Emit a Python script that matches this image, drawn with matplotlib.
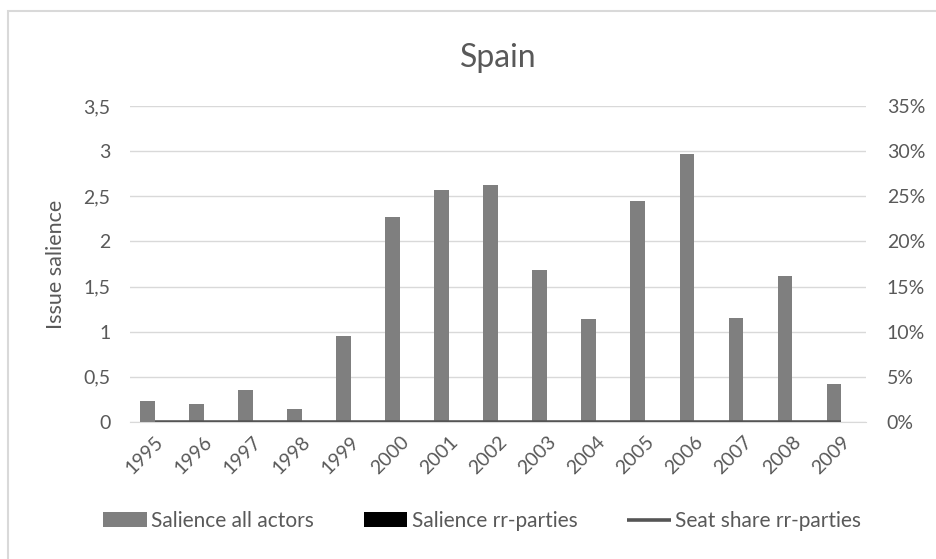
import numpy as np
import matplotlib.pyplot as plt
import matplotlib.patches as mpatches
from matplotlib.ticker import FuncFormatter, MultipleLocator

plt.rcParams['font.family'] = ['Lato', 'DejaVu Sans']

# data
years = ['1995', '1996', '1997', '1998', '1999', '2000', '2001', '2002',
         '2003', '2004', '2005', '2006', '2007', '2008', '2009']
salience_all = [0.23, 0.20, 0.35, 0.14, 0.95, 2.27, 2.57, 2.62,
                1.68, 1.14, 2.45, 2.97, 1.15, 1.62, 0.42]
salience_rr = [0, 0, 0, 0, 0, 0, 0, 0, 0, 0, 0, 0, 0, 0, 0]
seat_share_rr = [0, 0, 0, 0, 0, 0, 0, 0, 0, 0, 0, 0, 0, 0, 0]

TXT = '#595959'
GRID = '#d9d9d9'

fig = plt.figure(figsize=(9.36, 5.59), dpi=100)
# chart border
fig.patches.append(mpatches.Rectangle((8 / 936, -0.02), 1.0, (559 - 11) / 559 + 0.02,
                                      transform=fig.transFigure, fill=False,
                                      edgecolor=GRID, linewidth=1.5))

ax = fig.add_axes([130 / 936, (559 - 422) / 559, 736 / 936, 316 / 559])
ax2 = ax.twinx()

x = np.arange(len(years))
w = 0.3
b1 = ax.bar(x - w / 2, salience_all, w, color='#7f7f7f', label='Salience all actors', zorder=3)
b2 = ax.bar(x + w / 2, salience_rr, w, color='#000000', label='Salience rr-parties', zorder=3)
l1, = ax2.plot(x, seat_share_rr, color='#555555', linewidth=2.6, label='Seat share rr-parties',
               solid_capstyle='butt', zorder=4)

ax.set_xlim(-0.5, len(years) - 0.5)
ax.set_ylim(0, 3.5)
ax2.set_ylim(0, 0.35)
ax.yaxis.set_major_locator(MultipleLocator(0.5))
ax2.yaxis.set_major_locator(MultipleLocator(0.05))
ax.yaxis.set_major_formatter(FuncFormatter(lambda v, p: ('%g' % v).replace('.', ',')))
ax2.yaxis.set_major_formatter(FuncFormatter(lambda v, p: '%d%%' % round(v * 100)))

ax.grid(axis='y', color=GRID, linewidth=1, zorder=0)
ax.set_axisbelow(True)
for a in (ax, ax2):
    for s in a.spines.values():
        s.set_visible(False)
    a.tick_params(length=0, colors=TXT, labelsize=14)
ax.spines['bottom'].set_visible(True)
ax.spines['bottom'].set_color(GRID)
ax.tick_params(axis='y', pad=14)
ax2.tick_params(axis='y', pad=15)

ax.set_xticks(x)
ax.set_xticklabels(years, rotation=45, ha='right', rotation_mode='anchor')
ax.tick_params(axis='x', pad=8)

ax.set_ylabel('Issue salience', color=TXT, fontsize=15.5)
ax.yaxis.set_label_coords(-0.087, 0.5)
ax.set_title('Spain', color=TXT, fontsize=23, pad=28)

fig.legend(handles=[b1, b2, l1], loc='center', bbox_to_anchor=(0.515, (559 - 521) / 559),
           ncol=3, frameon=False, fontsize=15, labelcolor=TXT, handlelength=2.1,
           handletextpad=0.2, columnspacing=2.4)

fig.savefig('out.png', dpi=100)
